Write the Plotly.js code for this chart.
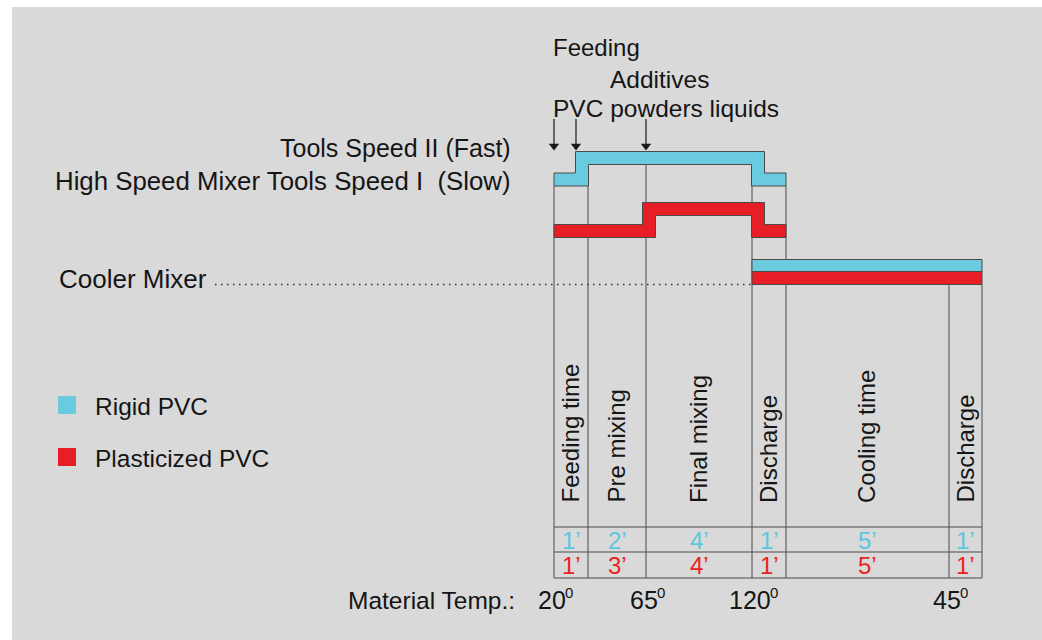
<!DOCTYPE html>
<html>
<head>
<meta charset="utf-8">
<script src="https://cdn.plot.ly/plotly-3.0.1.min.js"></script>
<style>html,body{margin:0;padding:0;background:#fff;}#chart{width:1042px;height:640px;}</style>
</head>
<body>
<div id="chart"></div>
<script>
// ---------- DATA ----------
const stages = ['Feeding time', 'Pre mixing', 'Final mixing', 'Discharge', 'Cooling time', 'Discharge'];
const rigidMinutes = [1, 2, 4, 1, 5, 1];
const plastMinutes = [1, 3, 4, 1, 5, 1];
const materialTemps = [20, 65, 120, 45];
const tempStageEdge = [0, 2, 3, 5];
// High speed mixer: 1 = Tools Speed I (Slow), 2 = Tools Speed II (Fast), stages 0..3
const rigidHsmSpeed = [1, 2, 2, 1];
const plastHsmSpeed = [1, 1, 2, 1];
// Cooler mixer runs over stages 3..5
const coolerStages = [3, 4, 5];
const seriesNames = ['Rigid PVC', 'Plasticized PVC'];
const feedLabels = ['Feeding', 'Additives', 'PVC powders liquids'];
const speedLabels = ['Tools Speed II (Fast)', 'High Speed Mixer Tools Speed I  (Slow)'];
const coolerLabel = 'Cooler Mixer';
const tempLabel = 'Material Temp.:';
const degreeMark = '0';

// ---------- LAYOUT / STYLE ----------
const EDGE_X = [554, 588, 646, 752, 786, 949, 982];
const H = 6.5;
const LEVEL_Y = { rigid: { 1: 179.5, 2: 158 }, plast: { 1: 231, 2: 209 } };
const COOLER_Y = { rigid: 266, plast: 278 };
const RISE_SHIFT = { rigid: -6, plast: 3 };
const FALL_SHIFT = 6;
const COL = { rigid: '#6acbdf', plast: '#e81e26' };
const TXT_COL = { rigid: '#5cc6de', plast: '#ea2420' };
const LINE_COL = '#4a4a4a';
const FONT = 'Liberation Sans, Arial, sans-serif';
const TABLE_Y = [527, 552, 578];
const FEED_ARROW_X = [554, 576, 646];
const ARROW_Y = [119, 147];
const TEMP_FONT = 25;

function bandPolygon(levels, edges, key) {
  const n = levels.length;
  const ys = levels.map(s => LEVEL_Y[key][s]);
  const xs = [], yy = [];
  xs.push(edges[0]); yy.push(ys[0] - H);
  for (let k = 1; k < n; k++) {
    if (ys[k] === ys[k - 1]) continue;
    const rising = ys[k] < ys[k - 1];
    const c = edges[k] + (rising ? RISE_SHIFT[key] : FALL_SHIFT);
    const xt = rising ? c - H : c + H;
    xs.push(xt, xt); yy.push(ys[k - 1] - H, ys[k] - H);
  }
  xs.push(edges[n]); yy.push(ys[n - 1] - H);
  xs.push(edges[n]); yy.push(ys[n - 1] + H);
  for (let k = n - 1; k >= 1; k--) {
    if (ys[k] === ys[k - 1]) continue;
    const rising = ys[k] < ys[k - 1];
    const c = edges[k] + (rising ? RISE_SHIFT[key] : FALL_SHIFT);
    const xb = rising ? c + H : c - H;
    xs.push(xb, xb); yy.push(ys[k] + H, ys[k - 1] + H);
  }
  xs.push(edges[0]); yy.push(ys[0] + H);
  xs.push(edges[0]); yy.push(ys[0] - H);
  return { x: xs, y: yy };
}

function rectPoly(x0, x1, yc) {
  return { x: [x0, x1, x1, x0, x0], y: [yc - H, yc - H, yc + H, yc + H, yc - H] };
}

const traces = [];
function addPoly(p, color, name) {
  traces.push({ type: 'scatter', mode: 'lines', x: p.x, y: p.y, fill: 'toself', fillcolor: color,
    line: { color: LINE_COL, width: 1 }, hoverinfo: 'skip', showlegend: false, name: name });
}
const hsmEdges = EDGE_X.slice(0, rigidHsmSpeed.length + 1);
addPoly(bandPolygon(rigidHsmSpeed, hsmEdges, 'rigid'), COL.rigid, seriesNames[0]);
addPoly(bandPolygon(plastHsmSpeed, hsmEdges, 'plast'), COL.plast, seriesNames[1]);
const cx0 = EDGE_X[coolerStages[0]], cx1 = EDGE_X[coolerStages[coolerStages.length - 1] + 1];
addPoly(rectPoly(cx0, cx1, COOLER_Y.rigid), COL.rigid, seriesNames[0]);
addPoly(rectPoly(cx0, cx1, COOLER_Y.plast), COL.plast, seriesNames[1]);

traces.push({ type: 'scatter', mode: 'markers', x: FEED_ARROW_X, y: FEED_ARROW_X.map(() => ARROW_Y[1] - 1),
  marker: { symbol: 'triangle-down', size: 9, color: '#1a1a1a', line: { width: 0 } },
  hoverinfo: 'skip', showlegend: false });

// ---------- SHAPES ----------
const shapes = [];
const coolerBottom = COOLER_Y.plast + H;
EDGE_X.forEach((x, k) => {
  let top;
  if (k <= rigidHsmSpeed.length) {
    const adj = [k - 1, k].filter(i => i >= 0 && i < rigidHsmSpeed.length);
    top = Math.min(...adj.map(i => LEVEL_Y.rigid[rigidHsmSpeed[i]] + H));
  } else {
    top = coolerBottom;
  }
  shapes.push({ type: 'line', layer: 'below', xref: 'x', yref: 'y', x0: x, x1: x, y0: top, y1: TABLE_Y[2],
    line: { color: LINE_COL, width: 1 } });
});
FEED_ARROW_X.forEach(x => shapes.push({ type: 'line', xref: 'x', yref: 'y', x0: x, x1: x,
  y0: ARROW_Y[0], y1: ARROW_Y[1] - 2, line: { color: '#1a1a1a', width: 1.2 } }));
TABLE_Y.forEach(y => shapes.push({ type: 'line', layer: 'below', xref: 'x', yref: 'y',
  x0: EDGE_X[0], x1: EDGE_X[EDGE_X.length - 1], y0: y, y1: y, line: { color: LINE_COL, width: 1.2 } }));
shapes.push({ type: 'line', layer: 'below', xref: 'x', yref: 'y', x0: 215, x1: EDGE_X[coolerStages[0]],
  y0: coolerBottom, y1: coolerBottom, line: { color: '#333', width: 1.5, dash: '1.5px,4.5px' } });
[['rigid', 405], ['plast', 457]].forEach(([k, yc]) => shapes.push({ type: 'rect', xref: 'x', yref: 'y',
  x0: 58, x1: 76, y0: yc - 9, y1: yc + 9, fillcolor: COL[k], line: { width: 0 } }));

// ---------- ANNOTATIONS ----------
const ann = [];
const tf = (size, color) => ({ family: FONT, size: size, color: color || '#151515' });
function txt(text, x, y, xanchor, size, color, extra) {
  ann.push(Object.assign({ text: text, x: x, y: y, xref: 'x', yref: 'y', xanchor: xanchor, yanchor: 'middle',
    showarrow: false, font: tf(size, color) }, extra || {}));
}
txt(feedLabels[0], 551, 47, 'left', 24);
txt(feedLabels[1], 608, 79, 'left', 24.5);
txt(feedLabels[2], 551, 108, 'left', 24.5);
txt(speedLabels[0], 513, 148, 'right', 25);
txt(speedLabels[1], 513, 181, 'right', 25.8);
txt(coolerLabel, 57, 279, 'left', 26);
txt(seriesNames[0], 93, 406, 'left', 24.5);
txt(seriesNames[1], 93, 458, 'left', 24.5);
txt(tempLabel, 346, 600, 'left', 24.5);

stages.forEach((s, i) => {
  const xc = (EDGE_X[i] + EDGE_X[i + 1]) / 2;
  ann.push({ text: s, x: xc - 1, y: 505, xref: 'x', yref: 'y', xanchor: 'center', yanchor: 'bottom',
    textangle: -90, showarrow: false, font: tf(24) });
  txt(rigidMinutes[i] + '’', xc, 540, 'center', 24, TXT_COL.rigid);
  txt(plastMinutes[i] + '’', xc, 565, 'center', 24, TXT_COL.plast);
});
materialTemps.forEach((t, i) => {
  const xc = EDGE_X[tempStageEdge[i]] - 2;
  const halfW = String(t).length * 0.556 * TEMP_FONT / 2;
  txt(String(t), xc, 600, 'center', TEMP_FONT);
  txt(degreeMark, xc + halfW - 3, 592, 'left', 15);
});

const layout = {
  width: 1042, height: 640,
  margin: { l: 12, r: 0, t: 7, b: 0, pad: 0 },
  paper_bgcolor: '#ffffff', plot_bgcolor: '#d9d9d9',
  xaxis: { range: [12, 1042], visible: false, fixedrange: true },
  yaxis: { range: [640, 7], visible: false, fixedrange: true },
  showlegend: false,
  shapes: shapes, annotations: ann
};
Plotly.newPlot('chart', traces, layout, { staticPlot: true, displayModeBar: false });
</script>
</body>
</html>
